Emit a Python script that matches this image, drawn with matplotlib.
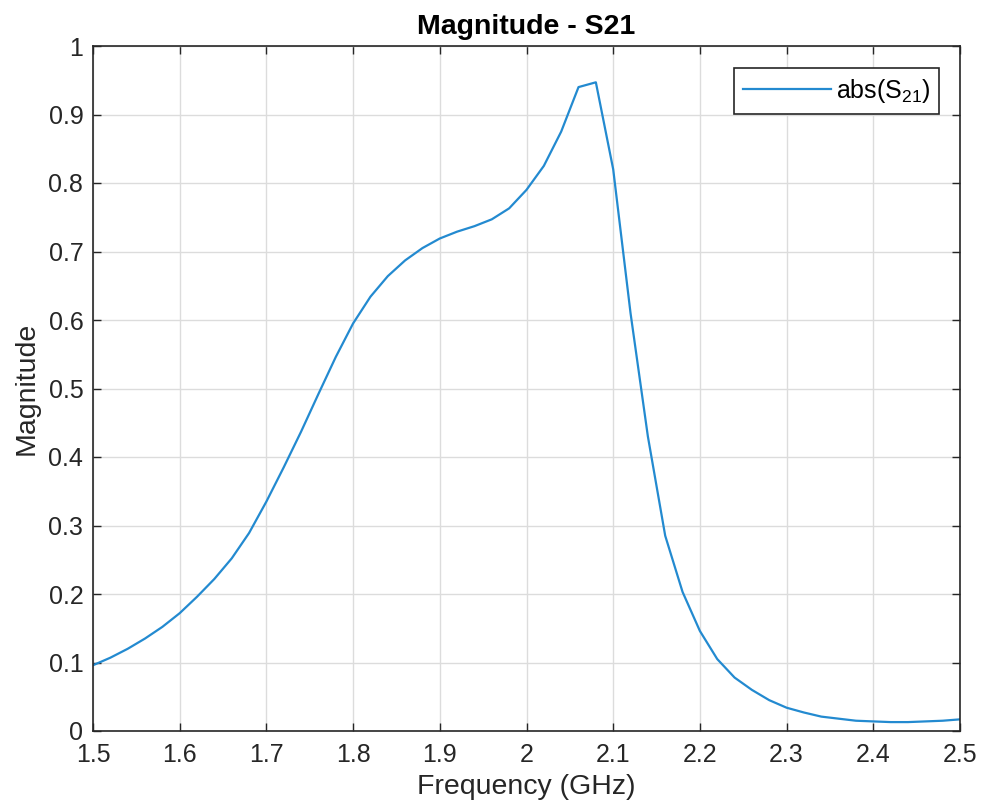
import matplotlib
matplotlib.use("Agg")
import matplotlib.pyplot as plt
import numpy as np

freq_ghz = [1.50, 1.52, 1.54, 1.56, 1.58, 1.60, 1.62, 1.64, 1.66, 1.68,
            1.70, 1.72, 1.74, 1.76, 1.78, 1.80, 1.82, 1.84, 1.86, 1.88,
            1.90, 1.92, 1.94, 1.96, 1.98, 2.00, 2.02, 2.04, 2.06, 2.08,
            2.10, 2.12, 2.14, 2.16, 2.18, 2.20, 2.22, 2.24, 2.26, 2.28,
            2.30, 2.32, 2.34, 2.36, 2.38, 2.40, 2.42, 2.44, 2.46, 2.48, 2.50]
mag_s21 = [0.096, 0.107, 0.120, 0.135, 0.152, 0.172, 0.196, 0.222, 0.252, 0.289,
           0.335, 0.385, 0.437, 0.492, 0.546, 0.595, 0.634, 0.664, 0.687, 0.705,
           0.719, 0.729, 0.737, 0.747, 0.763, 0.790, 0.825, 0.875, 0.940, 0.947,
           0.820, 0.610, 0.430, 0.285, 0.203, 0.146, 0.105, 0.078, 0.060, 0.045,
           0.034, 0.027, 0.021, 0.018, 0.015, 0.014, 0.013, 0.013, 0.014, 0.015, 0.017]
xticks = [1.5, 1.6, 1.7, 1.8, 1.9, 2.0, 2.1, 2.2, 2.3, 2.4, 2.5]
xtick_labels = ["1.5", "1.6", "1.7", "1.8", "1.9", "2", "2.1", "2.2", "2.3", "2.4", "2.5"]
yticks = [0, 0.1, 0.2, 0.3, 0.4, 0.5, 0.6, 0.7, 0.8, 0.9, 1.0]
ytick_labels = ["0", "0.1", "0.2", "0.3", "0.4", "0.5", "0.6", "0.7", "0.8", "0.9", "1"]

plt.rcParams['font.family'] = ['Liberation Sans', 'DejaVu Sans']
plt.rcParams['mathtext.fontset'] = 'custom'
plt.rcParams['mathtext.rm'] = 'Liberation Sans'
plt.rcParams['mathtext.it'] = 'Liberation Sans'

axc = '#262626'
fig = plt.figure(figsize=(9.85, 8.11), dpi=100)
ax = fig.add_axes([93/985, 1-731/811, (960-93)/985, (731-46)/811])

ax.plot(freq_ghz, mag_s21, color='#238ad0', lw=1.6, label=r'abs(S$_{21}$)')
ax.set_xlim(1.5, 2.5)
ax.set_ylim(0, 1)
ax.set_xticks(xticks)
ax.set_xticklabels(xtick_labels)
ax.set_yticks(yticks)
ax.set_yticklabels(ytick_labels)
ax.grid(True, color='#dcdcdc', lw=1.0)
ax.set_axisbelow(True)
ax.tick_params(direction='in', length=6, width=1.0, colors=axc, labelsize=18,
               top=True, right=True)
ax.tick_params(axis='x', pad=9)
ax.tick_params(axis='y', pad=7)
for s in ax.spines.values():
    s.set_color(axc)
    s.set_linewidth(1.2)

ax.set_xlabel('Frequency (GHz)', fontsize=20.5, color=axc, labelpad=5)
ax.set_ylabel('Magnitude', fontsize=20.5, color=axc, labelpad=6)
ax.set_title('Magnitude - S21', fontsize=20.5, fontweight='bold', color='black', pad=9)

leg = ax.legend(loc='upper right', fontsize=18, frameon=True, fancybox=False,
                handlelength=3.5, handletextpad=0.2, borderpad=0.35,
                borderaxespad=0, bbox_to_anchor=(1 - 21/867, 1 - 22/685))
leg.get_frame().set_edgecolor(axc)
leg.get_frame().set_linewidth(1.2)
leg.get_frame().set_alpha(1)

fig.savefig('out.png', dpi=100)
